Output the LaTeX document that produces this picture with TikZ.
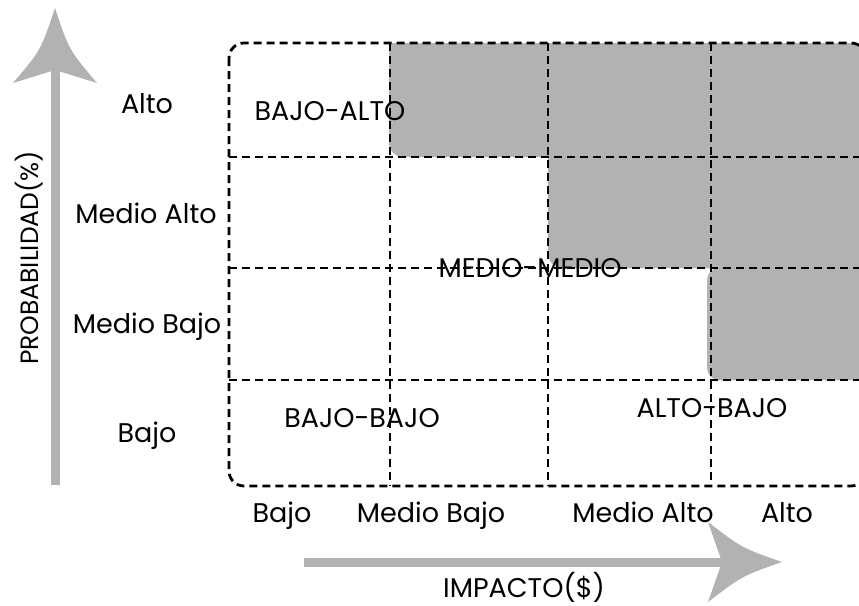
\documentclass[tikz,border=0pt]{standalone}
\usepackage{fontspec}
\setmainfont{Poppins}
\definecolor{riskgray}{HTML}{B2B2B2}
\definecolor{arrowgray}{HTML}{B2B2B2}
\begin{document}
\begin{tikzpicture}[x=1pt,y=-1pt,
  gridline/.style={black,line width=2.8pt,dash pattern=on 8pt off 5pt},
  lbl/.style={anchor=base,inner sep=0pt,font=\fontsize{27}{32}\selectfont},
  cell/.style={lbl}]
\useasboundingbox (0,0) rectangle (859,605);
% grey risk zones
\begin{scope}
  \clip[rounded corners=15] (229,43) rectangle (866,486);
  \fill[riskgray,rounded corners=14] (389,43) rectangle (900,157);
  \fill[riskgray] (389,43) rectangle (420,80);
  \fill[riskgray,rounded corners=14] (548,150) rectangle (900,268);
  \fill[riskgray] (548,150) rectangle (580,190);
  \fill[riskgray,rounded corners=12] (707,268) rectangle (900,380);
\end{scope}
% vertical arrow
\fill[arrowgray] (50.5,70) rectangle (59.5,485);
\fill[arrowgray] (55,8) .. controls (69,50) .. (97,83) -- (55,70) -- (13,83) .. controls (41,50) .. (55,8) -- cycle;
% horizontal arrow
\fill[arrowgray] (304,557.5) rectangle (722,566.5);
\fill[arrowgray] (782,562) .. controls (742,548) .. (708,522) -- (722,562) -- (708,602) .. controls (742,576) .. (782,562) -- cycle;
% texts
\node[lbl,rotate=90,font=\fontsize{25}{30}\selectfont] (prob) at (38,258) {PROBABILIDAD(\%)};
\node[lbl] (yalto) at (147,113) {Alto};
\node[lbl] (ymalto) at (146,223) {Medio Alto};
\node[lbl] (ymbajo) at (147,333) {Medio Bajo};
\node[lbl] (ybajo) at (147,442) {Bajo};
\node[lbl] (xbajo) at (282,522) {Bajo};
\node[lbl] (xmbajo) at (431,522) {Medio Bajo};
\node[lbl] (xmalto) at (643,522) {Medio Alto};
\node[lbl] (xalto) at (787,522) {Alto};
\node[lbl] (imp) at (524,597) {IMPACTO(\$)};
\node[cell] (ba) at (330,120) {BAJO-ALTO};
\node[cell] (mm) at (530,277) {MEDIO-MEDIO};
\node[cell] (bb) at (362,427) {BAJO-BAJO};
\node[cell] (ab) at (712,417) {ALTO-BAJO};
% grid
\draw[gridline,rounded corners=15] (229,43) rectangle (866,486);
\foreach \gx in {390,548,711} \draw[gridline] (\gx,43) -- (\gx,486);
\foreach \gy in {157,268,380} \draw[gridline] (229,\gy) -- (866,\gy);
\end{tikzpicture}
\end{document}
